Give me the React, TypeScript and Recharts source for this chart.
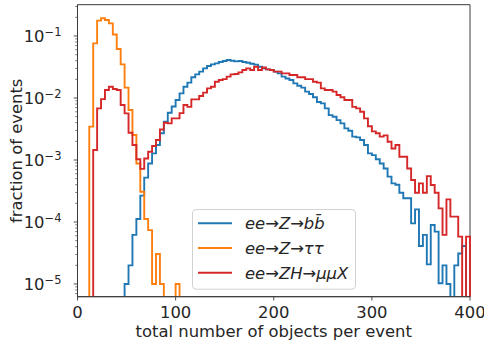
import React from 'react';
import { LineChart, Line, XAxis, YAxis, ReferenceArea, Legend } from 'recharts';

// ---------- data ----------
const BIN_WIDTH = 4;
const X_MIN = 0;
const X_MAX = 400;
const Y_MIN = 6.24e-6;
const Y_MAX = 0.32;
const FLOOR = 1e-9; // empty bins (drawn below the axis, clipped)

const xTicks = [0, 100, 200, 300, 400];
const yMajorTicks = [1e-5, 1e-4, 1e-3, 1e-2, 1e-1];

const seriesNames = ['ee→Z→bb̄', 'ee→Z→ττ', 'ee→ZH→μμX'];
const seriesColors = ['#1f77b4', '#ff7f0e', '#d62728'];

// fraction of events per bin of width 4, bins start at 0,4,...,396
const bbValues = [
  0, 0, 0, 0, 0, 0, 0, 0, 0, 0, 0, 0,
  1e-5, 2.0e-5, 6.2e-5, 1.12e-4, 2.66e-4, 5.2e-4, 8.8e-4, 1.28e-3, 1.75e-3, 2.7e-3,
  4.15e-3, 5.8e-3, 7.3e-3, 9.3e-3, 0.0119, 0.0152, 0.0177, 0.0216, 0.0241, 0.0266,
  0.0301, 0.0328, 0.0349, 0.0362, 0.0381, 0.0395, 0.041, 0.040, 0.039, 0.0395,
  0.0381, 0.0371, 0.0358, 0.0345, 0.032, 0.0301, 0.029, 0.0283, 0.0266, 0.025,
  0.0221, 0.0207, 0.0195, 0.0172, 0.0158, 0.0147, 0.0127, 0.0116, 0.0103, 8.6e-3,
  8.2e-3, 6.8e-3, 5.3e-3, 5.0e-3, 4.4e-3, 3.9e-3, 3.24e-3, 2.97e-3, 2.38e-3, 2.32e-3,
  2.1e-3, 1.75e-3, 1.28e-3, 1.2e-3, 1.03e-3, 8.8e-4, 7.3e-4, 5.4e-4, 4.2e-4, 4.0e-4,
  2.97e-4, 2.41e-4, 2.41e-4, 9.5e-5, 1.6e-4, 4.1e-5, 6.2e-5, 2.07e-5, 8.95e-5, 7.0e-5,
  1.03e-5, 2.0e-5, 1.0e-5, 0, 2.0e-5, 3.1e-5, 4.1e-5, 0,
];

const tautauValues = [
  0, 0, 0,
  3.45e-3, 0.076, 0.177, 0.193, 0.181, 0.160, 0.106, 0.0617, 0.0349, 0.0147,
  6.4e-3, 2.53e-3, 8.8e-4, 3.08e-4, 1.12e-4, 7.4e-5, 1e-5, 3.05e-5, 1e-5,
  0, 0, 0, 1e-5,
  0, 0, 0, 0, 0, 0, 0, 0, 0, 0, 0, 0, 0, 0, 0, 0, 0, 0, 0, 0, 0, 0, 0, 0, 0, 0, 0, 0, 0, 0,
  0, 0, 0, 0, 0, 0, 0, 0, 0, 0, 0, 0, 0, 0, 0, 0, 0, 0, 0, 0, 0, 0, 0, 0, 0, 0, 0, 0, 0, 0,
  0, 0, 0, 0, 0, 0, 0, 0, 0, 0, 0, 0, 0, 0, 0, 0, 0, 0, 0, 0, 0, 0, 0, 0, 0, 0, 0, 0, 0, 0,
].slice(0, 100);

const mumuXValues = [
  0, 0, 0, 0,
  1.45e-3, 6.8e-3, 9.6e-3, 0.0135, 0.0152, 0.0140, 0.0135, 7.7e-3, 5.66e-3, 2.76e-3,
  1.75e-3, 1.03e-3, 7.2e-4, 1.06e-3, 1.36e-3, 1.68e-3, 2.1e-3, 3.1e-3, 4.0e-3, 3.9e-3,
  4.7e-3, 4.7e-3, 5.7e-3, 7.7e-3, 7.2e-3, 9.5e-3, 9.5e-3, 0.0108, 0.0122, 0.0143,
  0.0152, 0.0183, 0.0195, 0.0202, 0.0221, 0.0241, 0.0244, 0.0259, 0.0283, 0.0301,
  0.0283, 0.032, 0.0283, 0.031, 0.029, 0.0283, 0.0266, 0.0266, 0.025, 0.025,
  0.0235, 0.0235, 0.0216, 0.0216, 0.0202, 0.0202, 0.0183, 0.0177, 0.0143, 0.0135,
  0.0135, 0.0127, 0.0112, 0.0103, 9.3e-3, 9.3e-3, 7.2e-3, 6.8e-3, 6.0e-3, 4.7e-3,
  3.5e-3, 2.9e-3, 2.7e-3, 2.38e-3, 2.5e-3, 1.97e-3, 1.53e-3, 1.75e-3, 1.13e-3, 1.13e-3,
  7.3e-4, 4.75e-4, 2.97e-4, 4.2e-4, 2.97e-4, 5.5e-4, 3.95e-4, 2.97e-4, 1.66e-4, 6.2e-5,
  2.32e-4, 1.22e-4, 1.22e-4, 5.8e-5, 0, 5.8e-5,
];

const binStarts = bbValues.map((_, i) => X_MIN + i * BIN_WIDTH);

// ---------- derived table ----------
const lift = (v: number) => (v > 0 ? v : FLOOR);
const chartData = [
  ...binStarts.map((x, i) => ({
    x,
    bb: lift(bbValues[i]),
    tautau: lift(tautauValues[i]),
    mumuX: lift(mumuXValues[i]),
  })),
  { x: X_MAX, bb: FLOOR, tautau: FLOOR, mumuX: FLOOR },
];
const seriesKeys = ['bb', 'tautau', 'mumuX'];

const yTicks: number[] = [];
for (let e = -6; e <= -1; e++) {
  for (let m = 1; m <= 9; m++) {
    const v = m * Math.pow(10, e);
    if (v >= Y_MIN && v <= Y_MAX) yTicks.push(v);
  }
}

// ---------- styles ----------
const FONT = "'DejaVu Sans', sans-serif";
const TEXT = '#262626';
const FRAME = '#3a3a3a';
const FS = 16.4;

const YTick = (props: any) => {
  const { x, y, payload } = props;
  const v = payload.value as number;
  const lg = Math.log10(v);
  const exp = Math.round(lg);
  const major = Math.abs(lg - exp) < 1e-6;
  const len = major ? 3.8 : 2.2;
  return (
    <g>
      <line x1={x - len} x2={x} y1={y} y2={y} stroke={FRAME} strokeWidth={major ? 0.9 : 0.7} />
      {major && (
        <text x={x - 16} y={y} dy={6} textAnchor="end" fontSize={FS} fontFamily={FONT} fill={TEXT}>
          10
          <tspan dy={-6.5} fontSize={11.5}>{'−' + String(-exp)}</tspan>
        </text>
      )}
    </g>
  );
};

const XTick = (props: any) => {
  const { x, y, payload } = props;
  return (
    <g>
      <line x1={x} x2={x} y1={y} y2={y + 3.8} stroke={FRAME} strokeWidth={0.9} />
      <text x={x} y={y + 21.6} textAnchor="middle" fontSize={FS} fontFamily={FONT} fill={TEXT}>
        {payload.value}
      </text>
    </g>
  );
};

const XLabel = () => (
  <text x={273.75} y={336.5} textAnchor="middle" fontSize={FS} fontFamily={FONT} fill={TEXT}>
    total number of objects per event
  </text>
);

const YLabel = () => (
  <text
    x={22.5}
    y={150.8}
    transform="rotate(-90 22.5 150.8)"
    textAnchor="middle"
    fontSize={FS}
    fontFamily={FONT}
    fill={TEXT}
  >
    fraction of events
  </text>
);

const LegendBox = () => (
  <svg width={166} height={83} style={{ display: 'block', overflow: 'visible' }}>
    <rect x={0.5} y={0.5} width={163} height={79.7} rx={3.5} fill="#ffffff" fillOpacity={0.8} stroke="#d2d2d2" strokeWidth={1} />
    {seriesNames.map((name, i) => {
      const cy = 14.3 + i * 24.7;
      return (
        <g key={name}>
          <line x1={6} x2={40} y1={cy} y2={cy} stroke={seriesColors[i]} strokeWidth={1.9} />
          <text x={53} y={cy + 6} fontSize={FS} fontStyle="italic" fontFamily={FONT} fill={TEXT}>
            {name}
          </text>
        </g>
      );
    })}
  </svg>
);

export default function App() {
  return (
    <div style={{ position: 'absolute', left: 0, top: 0, width: 484, height: 345, background: '#fff' }}>
      <LineChart
        width={484}
        height={345}
        data={chartData}
        margin={{ top: 4.7, right: 14, bottom: 0, left: 0 }}
      >
        <XAxis
          dataKey="x"
          type="number"
          domain={[X_MIN, X_MAX]}
          ticks={xTicks}
          interval={0}
          height={48.3}
          tickSize={0}
          tickMargin={0}
          tick={<XTick />}
          axisLine={{ stroke: FRAME, strokeWidth: 1 }}
          label={{ content: () => <XLabel /> }}
        />
        <YAxis
          type="number"
          scale="log"
          domain={[Y_MIN, Y_MAX]}
          allowDataOverflow
          ticks={yTicks}
          interval={0}
          width={77.5}
          tickSize={0}
          tickMargin={0}
          tick={<YTick />}
          axisLine={{ stroke: FRAME, strokeWidth: 1 }}
          label={{ content: () => <YLabel /> }}
        />
        {seriesKeys.map((k, i) => (
          <Line
            key={k}
            dataKey={k}
            type="stepAfter"
            stroke={seriesColors[i]}
            strokeWidth={1.9}
            dot={false}
            activeDot={false}
            isAnimationActive={false}
            name={seriesNames[i]}
          />
        ))}
        <ReferenceArea
          x1={X_MIN}
          x2={X_MAX}
          y1={Y_MIN}
          y2={Y_MAX}
          fill="none"
          stroke={FRAME}
          strokeWidth={1}
          ifOverflow="visible"
        />
        <Legend
          layout="vertical"
          align="center"
          verticalAlign="middle"
          content={() => <LegendBox />}
          wrapperStyle={{ left: 192, top: 209, width: 166, height: 83 }}
        />
      </LineChart>
    </div>
  );
}
